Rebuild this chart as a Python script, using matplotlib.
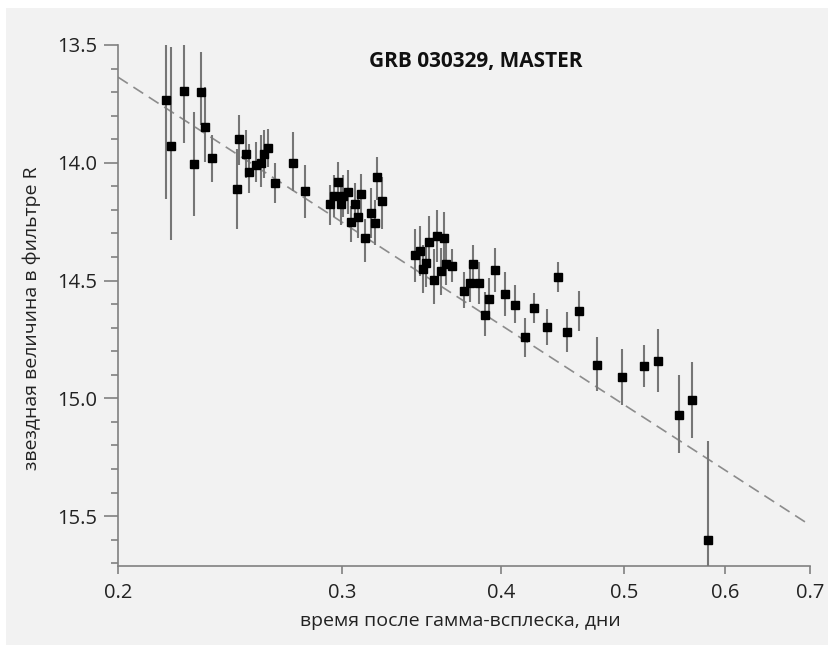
import numpy as np
import matplotlib
matplotlib.use('Agg')
import matplotlib.pyplot as plt
from matplotlib.ticker import FixedLocator, MultipleLocator, FormatStrFormatter, NullLocator
from matplotlib.patches import Rectangle

plt.rcParams['font.family'] = ['Open Sans', 'DejaVu Sans']

# время после всплеска, дни
t_days = [0.2182, 0.2201, 0.2254, 0.2295, 0.2324, 0.2341, 0.2371, 0.2481, 0.2490, 0.2522,
          0.2535, 0.2568, 0.2591, 0.2605, 0.2624, 0.2657, 0.2745, 0.2806,
          0.2936, 0.2957, 0.2979, 0.2995, 0.3006, 0.3033, 0.3049, 0.3071, 0.3088, 0.3105,
          0.3128, 0.3162, 0.3185, 0.3196, 0.3225,
          0.3424, 0.3455, 0.3474, 0.3493, 0.3512, 0.3544, 0.3563, 0.3589, 0.3609, 0.3622, 0.3661,
          0.3742, 0.3783, 0.3803, 0.3845, 0.3887, 0.3915, 0.3957, 0.4030, 0.4103, 0.4178,
          0.4247, 0.4348, 0.4436, 0.4508, 0.4607,
          0.4760, 0.4981, 0.5183, 0.5316, 0.5522, 0.5653, 0.5820]

# звездная величина R
mag_r = [13.734, 13.929, 13.695, 14.005, 13.700, 13.848, 13.980, 14.111, 13.899, 13.963,
         14.039, 14.010, 14.001, 13.963, 13.937, 14.086, 14.001, 14.120,
         14.175, 14.141, 14.082, 14.175, 14.141, 14.124, 14.252, 14.175, 14.230, 14.133,
         14.320, 14.213, 14.256, 14.060, 14.162,
         14.392, 14.375, 14.451, 14.426, 14.337, 14.498, 14.311, 14.460, 14.320, 14.430, 14.438,
         14.545, 14.511, 14.430, 14.511, 14.647, 14.579, 14.455, 14.557, 14.604, 14.740,
         14.617, 14.697, 14.485, 14.719, 14.630,
         14.859, 14.910, 14.863, 14.842, 15.071, 15.007, 15.602]

# ошибки (в сторону ярче / в сторону слабее)
err_bright = [0.24, 0.42, 0.20, 0.22, 0.17, 0.17, 0.10, 0.17, 0.10, 0.10,
              0.12, 0.10, 0.12, 0.10, 0.08, 0.085, 0.13, 0.11,
              0.08, 0.09, 0.085, 0.09, 0.09, 0.095, 0.07, 0.09, 0.09, 0.085,
              0.08, 0.105, 0.10, 0.085, 0.10,
              0.11, 0.105, 0.10, 0.10, 0.11, 0.13, 0.11, 0.10, 0.11, 0.09, 0.07,
              0.08, 0.08, 0.08, 0.09, 0.10, 0.09, 0.095, 0.095, 0.085, 0.08,
              0.065, 0.075, 0.065, 0.085, 0.085,
              0.12, 0.12, 0.09, 0.135, 0.17, 0.16, 0.42]
err_faint = [0.42, 0.40, 0.22, 0.22, 0.14, 0.15, 0.10, 0.17, 0.11, 0.10,
             0.09, 0.07, 0.10, 0.10, 0.08, 0.085, 0.12, 0.115,
             0.09, 0.09, 0.09, 0.09, 0.09, 0.095, 0.085, 0.09, 0.09, 0.085,
             0.10, 0.105, 0.095, 0.10, 0.12,
             0.115, 0.105, 0.10, 0.10, 0.11, 0.10, 0.11, 0.10, 0.11, 0.09, 0.07,
             0.07, 0.08, 0.08, 0.09, 0.09, 0.09, 0.095, 0.095, 0.075, 0.085,
             0.065, 0.075, 0.065, 0.085, 0.085,
             0.11, 0.12, 0.09, 0.13, 0.16, 0.16, 0.42]

# степенной закон: m = a + b*lg(t)
fit_a = 16.08
fit_b = 3.496
x_ticks = [0.2, 0.3, 0.4, 0.5, 0.6, 0.7]
y_ticks = [13.5, 14.0, 14.5, 15.0, 15.5]

fig = plt.figure(figsize=(8.34, 6.56), dpi=100)
fig.patch.set_facecolor('white')
fig.patches.append(Rectangle((6 / 834, 11 / 656), 822 / 834, 637 / 656,
                             transform=fig.transFigure, facecolor='#f2f2f2',
                             edgecolor='none', zorder=-10))

ax = fig.add_axes([118 / 834, 90 / 656, 692 / 834, 521 / 656])
ax.set_facecolor('none')

# линия аппроксимации
tt = np.array([x_ticks[0], x_ticks[-1]])
ax.plot(tt, fit_a + fit_b * np.log10(tt), color='#8c8c8c', lw=1.2,
        dashes=(7, 4), zorder=1)

ax.errorbar(t_days, mag_r, yerr=[err_bright, err_faint], fmt='s', color='black',
            ms=6, ecolor='#767676', elinewidth=1.5, capsize=0, zorder=3)

ax.set_xscale('log')
ax.set_xlim(0.2, 0.7)
ax.set_ylim(15.712, 13.5)
ax.xaxis.set_major_locator(FixedLocator(x_ticks))
ax.xaxis.set_minor_locator(NullLocator())
ax.xaxis.set_major_formatter(FormatStrFormatter('%.1f'))
ax.xaxis.set_minor_formatter(plt.NullFormatter())
ax.yaxis.set_major_locator(FixedLocator(y_ticks))
ax.yaxis.set_minor_locator(MultipleLocator(0.1))
ax.yaxis.set_major_formatter(FormatStrFormatter('%.1f'))

for s in ['top', 'right']:
    ax.spines[s].set_visible(False)
for s in ['left', 'bottom']:
    ax.spines[s].set_color('#808080')
    ax.spines[s].set_linewidth(1.2)

ax.tick_params(axis='both', which='both', color='#808080', width=1.2,
               labelsize=14.5, labelcolor='#222222', direction='out')
ax.tick_params(axis='y', which='major', length=10, pad=5)
ax.tick_params(axis='y', which='minor', length=5)
ax.tick_params(axis='x', which='major', length=6, pad=6)

ax.text(0.517, 0.968, 'GRB 030329, MASTER', transform=ax.transAxes,
        ha='center', va='center', fontsize=15, fontweight='bold', color='#111111')

fig.text(460 / 834, 1 - 621 / 656, 'время после гамма-всплеска, дни',
         ha='center', va='center', fontsize=14, color='#222222')
fig.text(32 / 834, 1 - 318 / 656, 'звездная величина в фильтре R',
         ha='center', va='center', rotation=90, fontsize=14, color='#222222')

fig.savefig('out.png', dpi=100)
